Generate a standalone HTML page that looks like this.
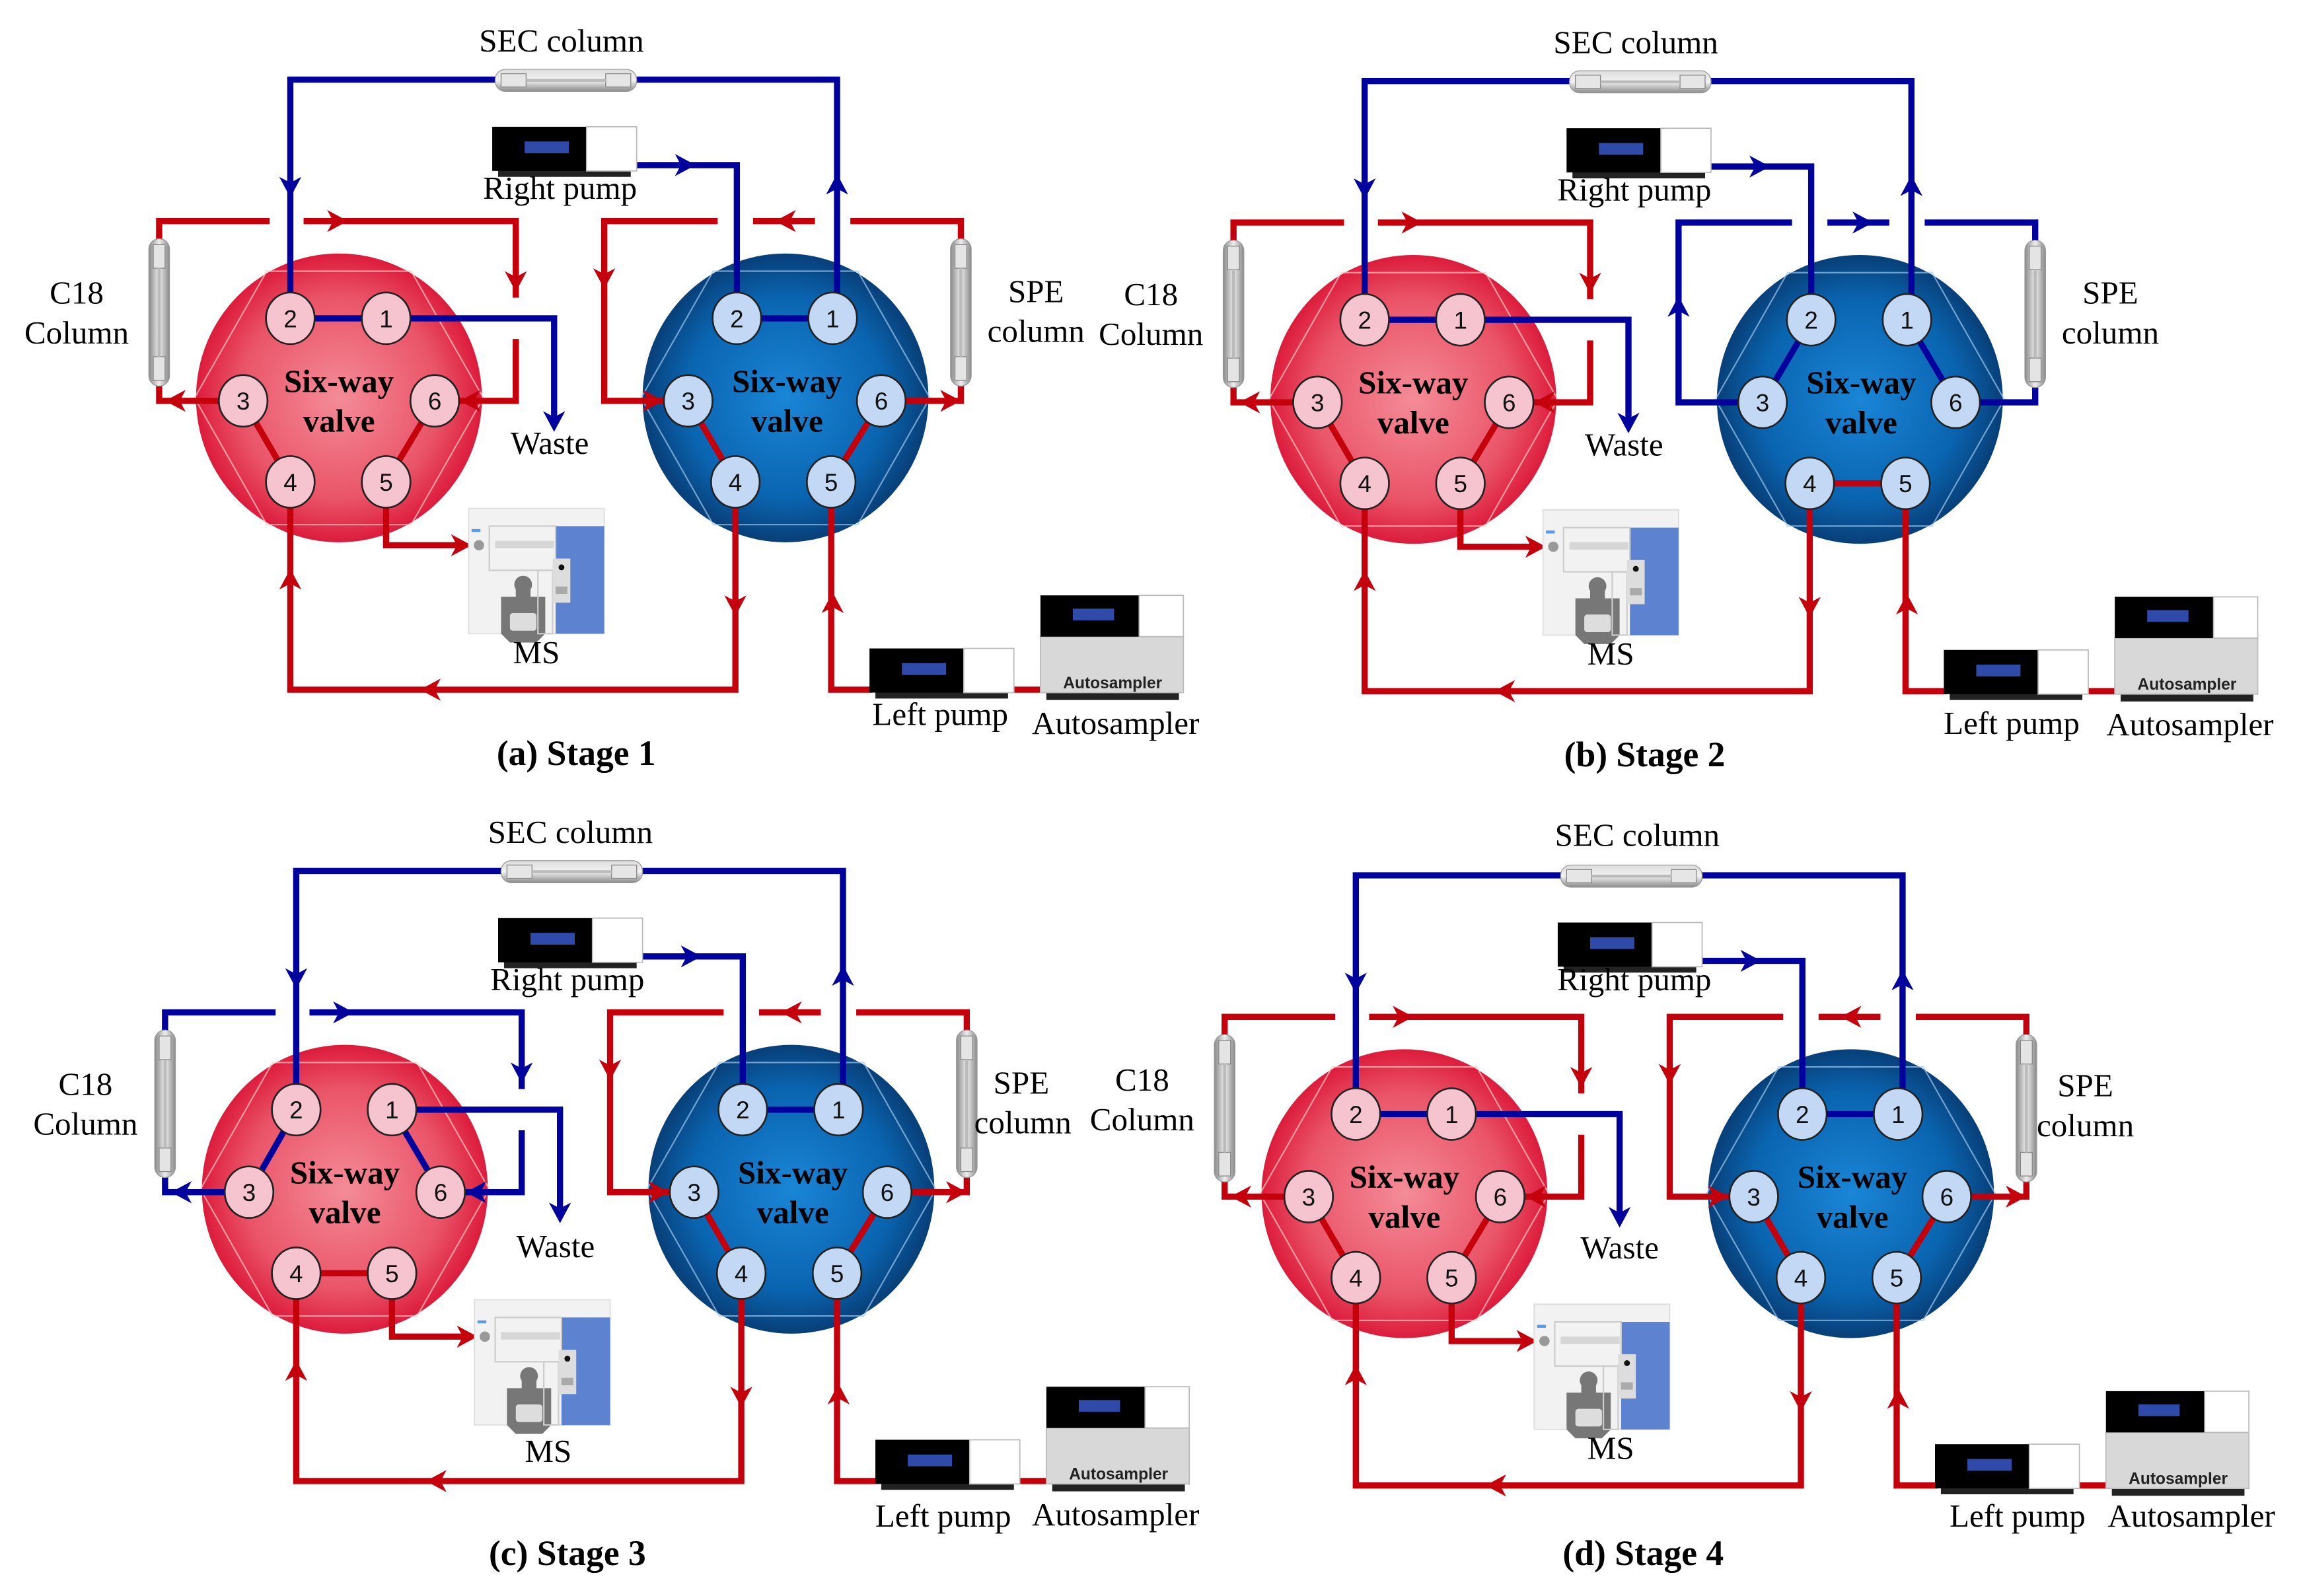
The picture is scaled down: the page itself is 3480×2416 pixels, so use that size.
<!DOCTYPE html>
<html><head><meta charset="utf-8"><style>html,body{margin:0;padding:0;background:#fff}svg{display:block}</style></head>
<body>
<svg width="3480" height="2416" viewBox="0 0 1560 1083" xmlns="http://www.w3.org/2000/svg" xmlns:xlink="http://www.w3.org/1999/xlink">
<defs>
<radialGradient id="gR" cx="50%" cy="50%" r="50%"><stop offset="0" stop-color="#f48c98"/><stop offset="0.7" stop-color="#ea5468"/><stop offset="1" stop-color="#dc1c3c"/></radialGradient>
<radialGradient id="gB" cx="50%" cy="50%" r="50%"><stop offset="0" stop-color="#1a86d6"/><stop offset="0.7" stop-color="#0a64b0"/><stop offset="1" stop-color="#083f78"/></radialGradient>
<linearGradient id="gCv" x1="0" x2="1" y1="0" y2="0"><stop offset="0" stop-color="#888"/><stop offset="0.5" stop-color="#eee"/><stop offset="1" stop-color="#888"/></linearGradient>
<linearGradient id="gCh" x1="0" x2="0" y1="0" y2="1"><stop offset="0" stop-color="#ddd"/><stop offset="0.5" stop-color="#f2f2f2"/><stop offset="1" stop-color="#8a8a8a"/></linearGradient>
<path id="ar" d="M0,0 L-14,-7.5 L-10,0 L-14,7.5 Z"/>
<g id="valves">
 <ellipse cx="230" cy="270" rx="97" ry="98" fill="url(#gR)"/>
 <polygon points="181,184 279,184 328,270 279,356 181,356 132,270" fill="none" stroke="#ffc8c8" stroke-opacity="0.7" stroke-width="1"/>
 <ellipse cx="533" cy="270" rx="97" ry="98" fill="url(#gB)"/>
 <polygon points="484,184 582,184 631,270 582,356 484,356 435,270" fill="none" stroke="#9cc8f0" stroke-opacity="0.7" stroke-width="1"/>
</g>
<g id="lines" fill="none" stroke-width="4.2">
 <path d="M197,216 V54 H568 V216" stroke="#00009c"/>
 <path d="M432,112 H500 V216" stroke="#00009c"/>
 <path d="M262,216 H376 V285" stroke="#00009c"/>
 <path d="M262,327 V370 H312" stroke="#c4000c"/>
 <path d="M197,327 V468 H499 V327" stroke="#c4000c"/>
 <path d="M564,327 V468 H592 M684,468 H708" stroke="#c4000c"/>
 <g stroke="none" fill="#00009c">
  <use href="#ar" transform="translate(197,134) rotate(90)"/>
  <use href="#ar" transform="translate(568,118) rotate(-90)"/>
  <use href="#ar" transform="translate(472,112)"/>
  <use href="#ar" transform="translate(376,293) rotate(90)"/>
 </g>
 <g stroke="none" fill="#c4000c">
  <use href="#ar" transform="translate(320,370)"/>
  <use href="#ar" transform="translate(197,386) rotate(-90)"/>
  <use href="#ar" transform="translate(285,468) rotate(180)"/>
  <use href="#ar" transform="translate(499,418) rotate(90)"/>
  <use href="#ar" transform="translate(565,402) rotate(-90)"/>
 </g>
</g>
<g id="Lred" fill="none" stroke-width="4.2">
 <path d="M183,150 H108 V272 H165 M206,150 H350 V202 M350,230 V272 H295" stroke="#c4000c"/>
 <path d="M165,272 L197,327 M295,272 L262,327" stroke="#c4000c"/>
 <path d="M197,216 H262" stroke="#00009c"/>
 <g stroke="none" fill="#c4000c">
  <use href="#ar" transform="translate(236,150)"/>
  <use href="#ar" transform="translate(350,198) rotate(90)"/>
  <use href="#ar" transform="translate(312,272) rotate(180)"/>
  <use href="#ar" transform="translate(112,272) rotate(180)"/>
 </g>
</g>
<g id="Lblue" fill="none" stroke-width="4.2">
 <path d="M183,150 H108 V272 H165 M206,150 H350 V202 M350,230 V272 H295" stroke="#00009c"/>
 <path d="M165,272 L197,216 M295,272 L262,216" stroke="#00009c"/>
 <path d="M197,327 H262" stroke="#c4000c"/>
 <g stroke="none" fill="#00009c">
  <use href="#ar" transform="translate(236,150)"/>
  <use href="#ar" transform="translate(350,198) rotate(90)"/>
  <use href="#ar" transform="translate(312,272) rotate(180)"/>
  <use href="#ar" transform="translate(112,272) rotate(180)"/>
 </g>
</g>
<g id="Rred" fill="none" stroke-width="4.2">
 <path d="M487,150 H410 V272 H467 M511,150 H553 M577,150 H652 V272 H598" stroke="#c4000c"/>
 <path d="M467,272 L499,327 M598,272 L564,327" stroke="#c4000c"/>
 <path d="M500,216 H565" stroke="#00009c"/>
 <g stroke="none" fill="#c4000c">
  <use href="#ar" transform="translate(526,150) rotate(180)"/>
  <use href="#ar" transform="translate(410,196) rotate(90)"/>
  <use href="#ar" transform="translate(450,272)"/>
  <use href="#ar" transform="translate(652,272)"/>
 </g>
</g>
<g id="Rblue" fill="none" stroke-width="4.2">
 <path d="M467,272 H410 V150 H487 M511,150 H553 M577,150 H652 V272 H598" stroke="#00009c"/>
 <path d="M467,272 L500,216 M598,272 L565,216" stroke="#00009c"/>
 <path d="M499,327 H564" stroke="#c4000c"/>
 <g stroke="none" fill="#00009c">
  <use href="#ar" transform="translate(542,150)"/>
  <use href="#ar" transform="translate(410,200) rotate(-90)"/>
 </g>
</g>
<g id="pump">
 <rect x="4" y="29" width="90" height="5" fill="#222"/>
 <rect x="0" y="0" width="64" height="30" fill="#000"/>
 <rect x="64" y="0" width="34" height="30" fill="#fff" stroke="#bbb" stroke-width="0.8"/>
 <rect x="22" y="10" width="30" height="8" fill="#2f4aa8"/>
</g>
<g id="vcol">
 <rect x="-7" y="0" width="14" height="100" rx="7" fill="url(#gCv)" stroke="#999" stroke-width="0.6"/>
 <rect x="-4" y="4" width="8" height="16" fill="#e4e4e4" stroke="#888" stroke-width="0.6"/>
 <rect x="-4" y="80" width="8" height="16" fill="#e4e4e4" stroke="#888" stroke-width="0.6"/>
 <line x1="0" y1="20" x2="0" y2="80" stroke="#bbb" stroke-width="2"/>
</g>
<g id="top">
 <rect x="336" y="47" width="96" height="15" rx="7" fill="url(#gCh)" stroke="#999" stroke-width="0.6"/>
 <rect x="340" y="50" width="17" height="9" fill="#e6e6e6" stroke="#888" stroke-width="0.6"/>
 <rect x="411" y="50" width="17" height="9" fill="#e6e6e6" stroke="#888" stroke-width="0.6"/>
 <line x1="357" y1="54.5" x2="411" y2="54.5" stroke="#bbb" stroke-width="2"/>
 <use href="#vcol" transform="translate(108,162)"/>
 <use href="#vcol" transform="translate(652,162)"/>
 <use href="#pump" transform="translate(334,86)"/>
 <use href="#pump" transform="translate(590,440)"/>
 <rect x="710" y="468" width="90" height="7" fill="#222"/>
 <rect x="706" y="432" width="97" height="38" fill="#d8d8d8" stroke="#bbb" stroke-width="0.8"/>
 <rect x="706" y="404" width="67" height="28" fill="#000"/>
 <rect x="773" y="404" width="30" height="28" fill="#fff" stroke="#bbb" stroke-width="0.8"/>
 <rect x="728" y="413" width="28" height="8" fill="#2f4aa8"/>
 <rect x="318" y="345" width="92" height="85" fill="#f2f2f2" stroke="#ddd" stroke-width="0.8"/>
 <rect x="377" y="357" width="33" height="73" fill="#5c82d0"/>
 <rect x="332" y="357" width="45" height="30" fill="none" stroke="#ccc" stroke-width="1"/>
 <rect x="336" y="367" width="40" height="5" fill="#d6d6d6"/>
 <circle cx="325" cy="370" r="3.5" fill="#999"/>
 <rect x="320" y="359" width="6" height="2" fill="#5c9ae8"/>
 <path d="M340,405 h10 v-5 a6,6 0 1 1 10,0 v5 h10 v25 l-6,6 h-18 l-6,-6 z" fill="#777"/>
 <rect x="346" y="416" width="18" height="12" rx="2" fill="#ddd"/>
 <rect x="365" y="387" width="10" height="43" fill="none" stroke="#ccc" stroke-width="1"/>
 <rect x="375" y="379" width="12" height="30" fill="#ddd"/>
 <circle cx="381" cy="385" r="2" fill="#111"/>
 <rect x="377" y="398" width="8" height="5" fill="#aaa"/>
 <g stroke="#222" stroke-width="1.2" fill="#f6c4cf">
  <ellipse cx="197" cy="216" rx="16.5" ry="17.5"/><ellipse cx="262" cy="216" rx="16.5" ry="17.5"/>
  <ellipse cx="165" cy="272" rx="16.5" ry="17.5"/><ellipse cx="295" cy="272" rx="16.5" ry="17.5"/>
  <ellipse cx="197" cy="327" rx="16.5" ry="17.5"/><ellipse cx="262" cy="327" rx="16.5" ry="17.5"/>
 </g>
 <g stroke="#222" stroke-width="1.2" fill="#c2d8f4">
  <ellipse cx="500" cy="216" rx="16.5" ry="17.5"/><ellipse cx="565" cy="216" rx="16.5" ry="17.5"/>
  <ellipse cx="467" cy="272" rx="16.5" ry="17.5"/><ellipse cx="598" cy="272" rx="16.5" ry="17.5"/>
  <ellipse cx="499" cy="327" rx="16.5" ry="17.5"/><ellipse cx="564" cy="327" rx="16.5" ry="17.5"/>
 </g>
</g>
</defs>

<g transform="translate(0,0)">
 <use href="#valves"/><use href="#lines"/><use href="#Lred"/><use href="#Rred"/><use href="#top"/>
 <g font-family="Liberation Sans, sans-serif" font-size="16.5" text-anchor="middle" fill="#111">
  <text x="197" y="222">2</text><text x="262" y="222">1</text><text x="165" y="278">3</text><text x="295" y="278">6</text><text x="197" y="333">4</text><text x="262" y="333">5</text>
  <text x="500" y="222">2</text><text x="565" y="222">1</text><text x="467" y="278">3</text><text x="598" y="278">6</text><text x="499" y="333">4</text><text x="564" y="333">5</text>
  <text x="755" y="467" font-size="11" font-weight="bold" fill="#222">Autosampler</text>
 </g>
 <g font-family="Liberation Serif, serif" text-anchor="middle" fill="#000" font-size="22">
  <text x="230" y="266" font-weight="bold">Six-way</text><text x="230" y="293" font-weight="bold">valve</text>
  <text x="534" y="266" font-weight="bold">Six-way</text><text x="534" y="293" font-weight="bold">valve</text>
  <text x="381" y="35">SEC column</text><text x="380" y="135">Right pump</text>
  <text x="52" y="206">C18</text><text x="52" y="233">Column</text>
  <text x="703" y="205">SPE</text><text x="703" y="232">column</text>
  <text x="373" y="308">Waste</text><text x="364" y="450">MS</text>
  <text x="638" y="492">Left pump</text><text x="757" y="498">Autosampler</text>
  <text x="391" y="519" font-weight="bold" font-size="24">(a) Stage 1</text>
 </g>
</g>

<g transform="translate(729,1)">
 <use href="#valves"/><use href="#lines"/><use href="#Lred"/><use href="#Rblue"/><use href="#top"/>
 <g font-family="Liberation Sans, sans-serif" font-size="16.5" text-anchor="middle" fill="#111">
  <text x="197" y="222">2</text><text x="262" y="222">1</text><text x="165" y="278">3</text><text x="295" y="278">6</text><text x="197" y="333">4</text><text x="262" y="333">5</text>
  <text x="500" y="222">2</text><text x="565" y="222">1</text><text x="467" y="278">3</text><text x="598" y="278">6</text><text x="499" y="333">4</text><text x="564" y="333">5</text>
  <text x="755" y="467" font-size="11" font-weight="bold" fill="#222">Autosampler</text>
 </g>
 <g font-family="Liberation Serif, serif" text-anchor="middle" fill="#000" font-size="22">
  <text x="230" y="266" font-weight="bold">Six-way</text><text x="230" y="293" font-weight="bold">valve</text>
  <text x="534" y="266" font-weight="bold">Six-way</text><text x="534" y="293" font-weight="bold">valve</text>
  <text x="381" y="35">SEC column</text><text x="380" y="135">Right pump</text>
  <text x="52" y="206">C18</text><text x="52" y="233">Column</text>
  <text x="703" y="205">SPE</text><text x="703" y="232">column</text>
  <text x="373" y="308">Waste</text><text x="364" y="450">MS</text>
  <text x="636" y="497">Left pump</text><text x="757" y="498">Autosampler</text>
  <text x="387" y="519" font-weight="bold" font-size="24">(b) Stage 2</text>
 </g>
</g>

<g transform="translate(4,537)">
 <use href="#valves"/><use href="#lines"/><use href="#Lblue"/><use href="#Rred"/><use href="#top"/>
 <g font-family="Liberation Sans, sans-serif" font-size="16.5" text-anchor="middle" fill="#111">
  <text x="197" y="222">2</text><text x="262" y="222">1</text><text x="165" y="278">3</text><text x="295" y="278">6</text><text x="197" y="333">4</text><text x="262" y="333">5</text>
  <text x="500" y="222">2</text><text x="565" y="222">1</text><text x="467" y="278">3</text><text x="598" y="278">6</text><text x="499" y="333">4</text><text x="564" y="333">5</text>
  <text x="755" y="467" font-size="11" font-weight="bold" fill="#222">Autosampler</text>
 </g>
 <g font-family="Liberation Serif, serif" text-anchor="middle" fill="#000" font-size="22">
  <text x="230" y="266" font-weight="bold">Six-way</text><text x="230" y="293" font-weight="bold">valve</text>
  <text x="534" y="266" font-weight="bold">Six-way</text><text x="534" y="293" font-weight="bold">valve</text>
  <text x="383" y="35">SEC column</text><text x="381" y="135">Right pump</text>
  <text x="54" y="206">C18</text><text x="54" y="233">Column</text>
  <text x="689" y="205">SPE</text><text x="690" y="232">column</text>
  <text x="373" y="316">Waste</text><text x="368" y="455">MS</text>
  <text x="636" y="499">Left pump</text><text x="753" y="498">Autosampler</text>
  <text x="381" y="525" font-weight="bold" font-size="24">(c) Stage 3</text>
 </g>
</g>

<g transform="translate(723,540)">
 <use href="#valves"/><use href="#lines"/><use href="#Lred"/><use href="#Rred"/><use href="#top"/>
 <g font-family="Liberation Sans, sans-serif" font-size="16.5" text-anchor="middle" fill="#111">
  <text x="197" y="222">2</text><text x="262" y="222">1</text><text x="165" y="278">3</text><text x="295" y="278">6</text><text x="197" y="333">4</text><text x="262" y="333">5</text>
  <text x="500" y="222">2</text><text x="565" y="222">1</text><text x="467" y="278">3</text><text x="598" y="278">6</text><text x="499" y="333">4</text><text x="564" y="333">5</text>
  <text x="755" y="467" font-size="11" font-weight="bold" fill="#222">Autosampler</text>
 </g>
 <g font-family="Liberation Serif, serif" text-anchor="middle" fill="#000" font-size="22">
  <text x="230" y="266" font-weight="bold">Six-way</text><text x="230" y="293" font-weight="bold">valve</text>
  <text x="534" y="266" font-weight="bold">Six-way</text><text x="534" y="293" font-weight="bold">valve</text>
  <text x="388" y="34">SEC column</text><text x="386" y="132">Right pump</text>
  <text x="52" y="200">C18</text><text x="52" y="227">Column</text>
  <text x="692" y="204">SPE</text><text x="692" y="231">column</text>
  <text x="376" y="314">Waste</text><text x="370" y="450">MS</text>
  <text x="646" y="496">Left pump</text><text x="764" y="496">Autosampler</text>
  <text x="392" y="522" font-weight="bold" font-size="24">(d) Stage 4</text>
 </g>
</g>
</svg>
</body></html>
